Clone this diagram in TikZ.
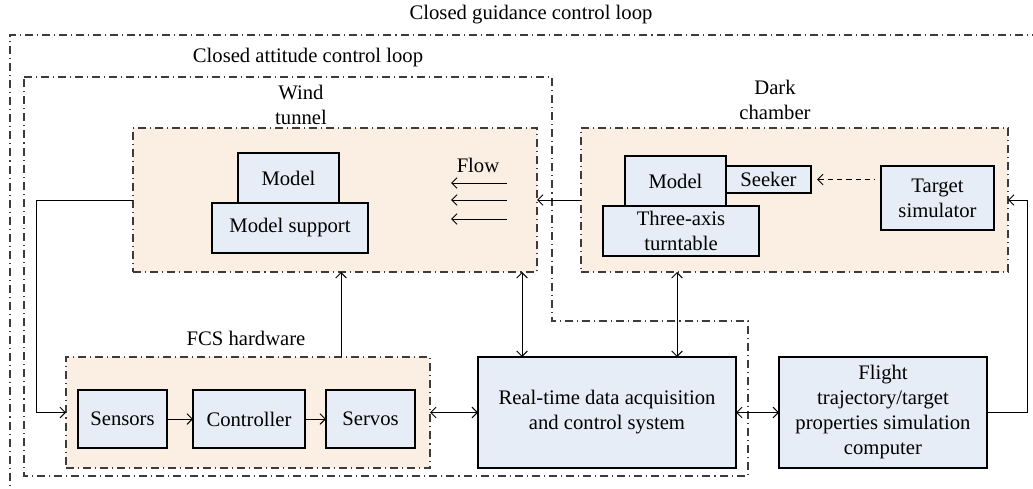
\documentclass[tikz,border=0pt]{standalone}
\usepackage{fontspec}
\setmainfont{Liberation Serif}
\usetikzlibrary{arrows.meta,calc}

\definecolor{zonefill}{RGB}{251,238,226}
\definecolor{blkfill}{RGB}{230,237,246}
\definecolor{loopgray}{RGB}{60,60,60}
\tikzset{every picture/.style={line width=0.75pt}}
\tikzset{
  dashdot line/.style={draw=loopgray, line width=0.85pt, dash pattern=on 6pt off 3pt on 0.8pt off 3pt},
  zone/.style={dashdot line, fill=zonefill, inner sep=0pt, outer sep=0pt},
  blk/.style={draw, line width=1pt, fill=blkfill, inner sep=0pt, outer sep=0pt, align=center},
  lbl/.style={align=center, inner sep=0pt},
  >={Straight Barb[length=4pt,width=8pt]}
}

\begin{document}
\begin{tikzpicture}[x=0.75pt,y=0.75pt,yscale=-1,xscale=1,font=\fontsize{15.5}{18.75}\selectfont]
	\useasboundingbox (0,0) rectangle (1033,489);
	\clip (0,0) rectangle (1033,489);

	%Shape: Closed guidance loop
	\draw [dashdot line] (1040,35) -- (10,35) -- (10,495) ;
	%Shape: Closed attitude loop
	\draw [dashdot line] (24,77) -- (552,77) -- (552,321) -- (748,321) -- (748,476) -- (24,476) -- cycle ;

	%Shape: Rectangle
	\node [zone, minimum width=303pt, minimum height=108pt] (tunnel) at (335,200) {};
	%Shape: Rectangle
	\node [zone, minimum width=320.25pt, minimum height=108pt] (chamber) at (794.5,200) {};
	%Shape: Rectangle
	\node [zone, minimum width=273pt, minimum height=83.25pt] (fcs) at (248,412.5) {};

	% Text Node
	\node [lbl] (guidlbl) at (531,15) {Closed guidance control loop};
	% Text Node
	\node [lbl] (attlbl) at (308,58) {Closed attitude control loop};
	% Text Node
	\node [lbl] (tunnellbl) at (301,105) {Wind\\tunnel};
	% Text Node
	\node [lbl] (chamberlbl) at (775,100) {Dark\\chamber};
	% Text Node
	\node [lbl] (fcslbl) at (246,338) {FCS hardware};
	% Text Node
	\node [lbl] (flowlbl) at (478,165) {Flow};

	%Shape: Rectangle
	\node [blk, minimum width=75.75pt, minimum height=37.5pt] (model) at (288.5,178) {Model};
	\node [blk, minimum width=117pt, minimum height=37.5pt] (support) at (290,228) {Model support};
	\node [blk, minimum width=63.75pt, minimum height=20.25pt] (seeker) at (768.5,179.5) {Seeker};
	\node [blk, minimum width=75.75pt, minimum height=37.5pt] (dmodel) at (675.5,181) {Model};
	\node [blk, minimum width=117pt, minimum height=37.5pt] (turntable) at (681,231) {Three-axis\\turntable};
	\node [blk, minimum width=84.75pt, minimum height=48pt] (target) at (937.5,198) {Target\\simulator};
	\node [blk, minimum width=66.75pt, minimum height=43.5pt] (sensors) at (122.5,419) {Sensors};
	\node [blk, minimum width=84pt, minimum height=43.5pt] (ctrl) at (249,419) {Controller};
	\node [blk, minimum width=66.75pt, minimum height=43.5pt] (servos) at (370.5,419) {Servos};
	\node [blk, minimum width=193.5pt, minimum height=83.25pt] (rt) at (607,412.5) {Real-time data acquisition\\and control system};
	\node [blk, minimum width=156pt, minimum height=83.25pt] (flight) at (883,412.5) {Flight\\trajectory/target\\properties simulation\\computer};

	%Straight Lines
	\foreach \fy in {183,200,219} \draw [<-] (451,\fy) -- (507,\fy) ;
	\draw [<-, dash pattern=on 4pt off 3pt] ($(seeker.east)+(6,0)$) -- ($(seeker.east -| target.west)+(-6,0)$) ;
	\draw [->] (sensors) -- (ctrl) ;
	\draw [->] (ctrl) -- (servos) ;
	\draw [->] (tunnel.west) -- ++(-97,0) |- (fcs.west) ;
	\draw [->] ($(fcs.north west)+(275,0)$) coordinate (fcsup) -- (fcsup |- tunnel.south) ;
	\draw [<->] (fcs.east) -- (rt.west) ;
	\draw [<->] (rt.east) -- (flight.west) ;
	\draw [<->] ($(tunnel.south east)+(-15,0)$) coordinate (tunneldn) -- (tunneldn |- rt.north) ;
	\draw [<->] ($(chamber.south west)+(96,0)$) coordinate (chamberdn) -- (chamberdn |- rt.north) ;
	\draw [->] (chamber.west) -- (tunnel.east) ;
	\draw [->] (flight.east) -- ++(40,0) |- (chamber.east) ;

\end{tikzpicture}
\end{document}
